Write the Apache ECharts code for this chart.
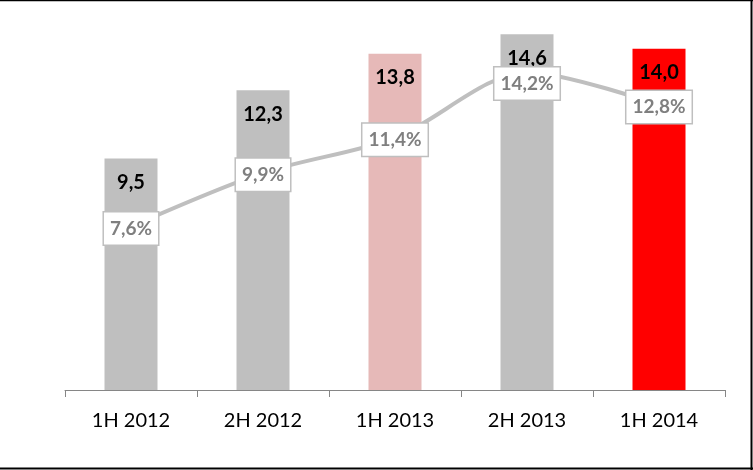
<!DOCTYPE html>
<html>
<head>
<meta charset="utf-8">
<script src="https://cdn.jsdelivr.net/npm/echarts@6/dist/echarts.min.js"></script>
<style>html,body{margin:0;padding:0;background:#fff}#c{width:753px;height:470px}</style>
</head>
<body>
<div id="c"></div>
<script>
const categories = ['1H 2012', '2H 2012', '1H 2013', '2H 2013', '1H 2014'];
const revenue = [9.5, 12.3, 13.8, 14.6, 14.0];
const margin = [7.6, 9.9, 11.4, 14.2, 12.8];

const barColors = ['#bfbfbf', '#bfbfbf', '#e6b9b8', '#bfbfbf', '#ff0000'];
const FONT = 'Lato, "Open Sans", sans-serif';
const fmt = v => v.toFixed(1).replace('.', ',');

const chart = echarts.init(document.getElementById('c'), null, {renderer: 'canvas'});
chart.setOption({
  animation: false,
  backgroundColor: '#fff',
  textStyle: {fontFamily: FONT},
  grid: {left: 65, right: 28, top: 0, bottom: 80},
  xAxis: {
    type: 'category',
    data: categories,
    boundaryGap: true,
    axisLine: {lineStyle: {color: '#868686', width: 1}},
    axisTick: {show: true, length: 7, lineStyle: {color: '#868686'}},
    axisLabel: {color: '#000', fontSize: 20, fontFamily: FONT, margin: 21}
  },
  yAxis: [
    {type: 'value', min: 0, max: 16, show: false, splitLine: {show: false}},
    {type: 'value', min: 0.6, max: 17.3, show: false, splitLine: {show: false}}
  ],
  series: [
    {
      type: 'bar',
      data: revenue.map((v, i) => ({value: v, itemStyle: {color: barColors[i]}})),
      barWidth: 53,
      label: {
        show: true,
        position: 'insideTop',
        distance: 14,
        color: '#000',
        fontWeight: 'bold',
        fontSize: 20,
        fontFamily: FONT,
        formatter: p => fmt(p.value)
      }
    },
    {
      type: 'line',
      yAxisIndex: 1,
      data: margin.map((v, i) => i === 3 ? {value: v, label: {offset: [0, 11]}} : v),
      smooth: 0.3,
      symbol: 'circle',
      symbolSize: 0,
      showSymbol: true,
      itemStyle: {color: '#bfbfbf'},
      lineStyle: {color: '#bfbfbf', width: 4},
      z: 5,
      label: {
        show: true,
        position: 'inside',
        offset: [0, 2],
        color: '#7f7f7f',
        fontWeight: 'bold',
        fontSize: 19,
        fontFamily: FONT,
        lineHeight: 20,
        backgroundColor: '#fff',
        borderColor: '#bfbfbf',
        borderWidth: 1.5,
        padding: [6, 6, 6, 6],
        formatter: p => fmt(p.value) + '%'
      }
    }
  ],
  graphic: [
    {type: 'line', shape: {x1: 0, y1: 0.5, x2: 753, y2: 0.5}, style: {stroke: '#000', lineWidth: 1.5}},
    {type: 'line', shape: {x1: 751.5, y1: 0, x2: 751.5, y2: 470}, style: {stroke: '#000', lineWidth: 2}},
    {type: 'line', shape: {x1: 0, y1: 468.5, x2: 753, y2: 468.5}, style: {stroke: '#000', lineWidth: 2}}
  ]
});
</script>
</body>
</html>
